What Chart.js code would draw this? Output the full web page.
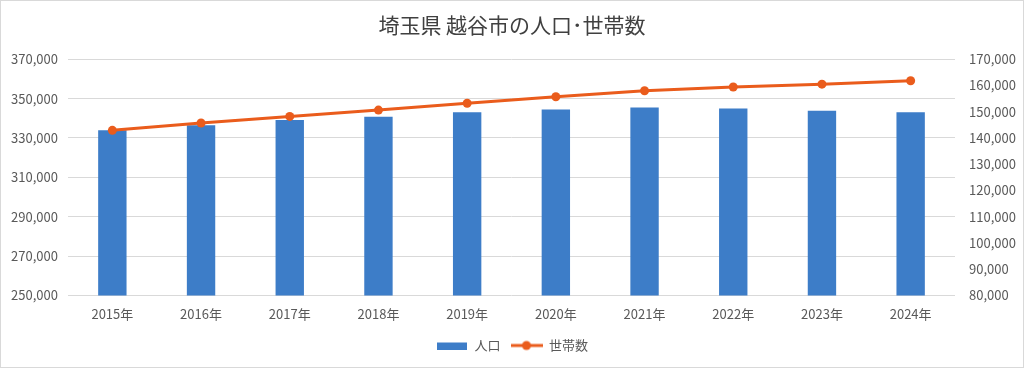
<!DOCTYPE html>
<html lang="ja">
<head>
<meta charset="utf-8">
<script src="https://cdn.jsdelivr.net/npm/chart.js@4"></script>
<style>
  html, body { margin: 0; padding: 0; background: #fff; }
  #wrap { position: relative; width: 1024px; height: 368px; }
  #frame { position: absolute; left: 0; top: 0; width: 1024px; height: 368px; box-sizing: border-box; border: 1px solid #d9d9d9; pointer-events: none; }
</style>
</head>
<body>
<div id="wrap">
  <canvas id="grafico" width="1024" height="368"></canvas>
  <div id="frame"></div>
</div>
<script>
// DADOS
const anos = ['2015年', '2016年', '2017年', '2018年', '2019年', '2020年', '2021年', '2022年', '2023年', '2024年'];
const jinko = [333900, 336400, 339100, 340800, 343000, 344500, 345500, 345000, 343800, 343000];
const setaisu = [142900, 145700, 148200, 150600, 153200, 155700, 158000, 159400, 160500, 161800];

const AZUL = '#3d7dc8';
const LARANJA = '#ea5c1c';
const TEXTO = '#595959';
const FONTE = "'Noto Sans CJK JP', 'Noto Sans', sans-serif";

// ícones da legenda
function iconeBarra() {
  const c = document.createElement('canvas');
  c.width = 30; c.height = 8;
  const ctx = c.getContext('2d');
  ctx.fillStyle = AZUL;
  ctx.fillRect(0, 1, 30, 7);
  return c;
}

function iconeLinha() {
  const c = document.createElement('canvas');
  c.width = 32; c.height = 12;
  const ctx = c.getContext('2d');
  ctx.strokeStyle = LARANJA;
  ctx.lineWidth = 3;
  ctx.beginPath();
  ctx.moveTo(0, 6);
  ctx.lineTo(32, 6);
  ctx.stroke();
  ctx.fillStyle = LARANJA;
  ctx.beginPath();
  ctx.arc(16, 6, 4.5, 0, Math.PI * 2);
  ctx.fill();
  return c;
}

const icones = [iconeBarra(), iconeLinha()];

new Chart(document.getElementById('grafico').getContext('2d'), {
  data: {
    labels: anos,
    datasets: [
      {
        type: 'bar',
        label: '人口',
        data: jinko,
        backgroundColor: AZUL,
        yAxisID: 'y',
        categoryPercentage: 1,
        barPercentage: 0.32,
        order: 2
      },
      {
        type: 'line',
        label: '世帯数',
        data: setaisu,
        borderColor: LARANJA,
        backgroundColor: LARANJA,
        borderWidth: 3,
        pointRadius: 4.5,
        pointBackgroundColor: LARANJA,
        pointBorderWidth: 0,
        tension: 0,
        yAxisID: 'y1',
        order: 1
      }
    ]
  },
  options: {
    responsive: false,
    animation: false,
    layout: { padding: { left: 0, right: 0, top: 0, bottom: 6 } },
    plugins: {
      title: {
        display: true,
        text: '埼玉県 越谷市の人口･世帯数',
        color: '#404040',
        font: { family: FONTE, size: 21, weight: 'normal' },
        padding: { top: 12, bottom: 22 }
      },
      legend: {
        position: 'bottom',
        labels: {
          color: TEXTO,
          font: { family: FONTE, size: 13 },
          usePointStyle: true,
          pointStyleWidth: 32,
          padding: 10,
          sort: (a, b) => a.datasetIndex - b.datasetIndex,
          generateLabels: chart => {
            const itens = Chart.defaults.plugins.legend.labels.generateLabels(chart);
            itens.forEach(it => { it.pointStyle = icones[it.datasetIndex]; });
            return itens;
          }
        }
      },
      tooltip: { enabled: false }
    },
    scales: {
      x: {
        afterFit: s => { s.height -= 4; },
        grid: { display: false, drawTicks: false },
        border: { display: false },
        ticks: { color: TEXTO, font: { family: FONTE, size: 13 }, padding: 11, maxRotation: 0 }
      },
      y: {
        position: 'left',
        min: 250000,
        max: 370000,
        afterFit: s => { s.width = 68; },
        grid: { color: '#d9d9d9', drawTicks: false },
        border: { display: false },
        ticks: {
          stepSize: 20000,
          color: TEXTO,
          font: { family: FONTE, size: 13 },
          padding: 10,
          callback: v => v.toLocaleString('en-US')
        }
      },
      y1: {
        position: 'right',
        min: 80000,
        max: 170000,
        afterFit: s => { s.width = 69; },
        grid: { display: false, drawTicks: false },
        border: { display: false },
        ticks: {
          stepSize: 10000,
          color: TEXTO,
          font: { family: FONTE, size: 13 },
          padding: 14,
          callback: v => v.toLocaleString('en-US')
        }
      }
    }
  }
});
</script>
</body>
</html>
